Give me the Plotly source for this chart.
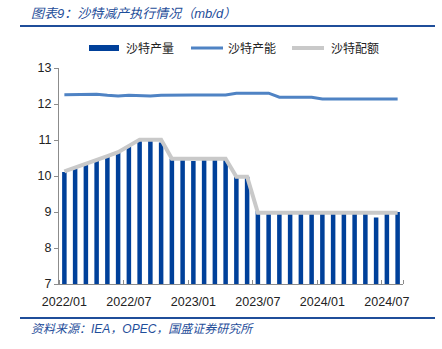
import plotly.graph_objects as go

months = [f"{y}/{m:02d}" for y in (2022, 2023, 2024) for m in range(1, 13)][:32]
production = [10.11, 10.21, 10.31, 10.42, 10.53, 10.64, 10.82, 10.97, 11.02, 10.93,
              10.48, 10.46, 10.42, 10.46, 10.46, 10.46, 9.98, 9.98, 9.03, 8.98,
              9.03, 8.98, 8.98, 8.98, 8.98, 8.98, 8.98, 9.03, 9.03, 8.85, 8.98, 9.00]
capacity = [12.26, 12.26, 12.26, 12.27, 12.24, 12.22, 12.24, 12.23, 12.22, 12.24,
            12.25, 12.25, 12.25, 12.25, 12.25, 12.25, 12.30, 12.30, 12.30, 12.30,
            12.19, 12.19, 12.19, 12.19, 12.14, 12.14, 12.14, 12.14, 12.14, 12.14, 12.14, 12.14]
quota = [10.13, 10.23, 10.34, 10.44, 10.55, 10.66, 10.83, 11.01, 11.01, 11.01,
         10.48, 10.48, 10.48, 10.48, 10.48, 10.48, 9.98, 9.98] + [8.98] * 14
tick_labels = months[::6]

x = list(range(len(months)))

BAR = "#00409A"
CAP = "#4F83C4"
QUO = "#C9C9C9"
BLUE_TXT = "#1F4E9A"
FONT = "Liberation Sans, Arial, Noto Sans CJK SC"

W, H = 442, 349
L, R, T, B = 59, 403, 68, 284


def px(xp):
    return (xp - L) / (R - L)


def py(yp):
    return (B - yp) / (B - T)


fig = go.Figure()
fig.add_trace(go.Bar(x=x, y=production, marker_color=BAR, marker_line_width=0,
                     name="沙特产量"))
fig.add_trace(go.Scatter(x=x, y=capacity, mode="lines", line=dict(color=CAP, width=3),
                         name="沙特产能"))
fig.add_trace(go.Scatter(x=x, y=quota, mode="lines", line=dict(color=QUO, width=4),
                         name="沙特配额"))

shapes = [
    dict(type="line", xref="paper", yref="paper", x0=px(20), x1=px(435), y0=py(26), y1=py(26),
         line=dict(color=BLUE_TXT, width=2)),
    dict(type="line", xref="paper", yref="paper", x0=px(20), x1=px(435), y0=py(318), y1=py(318),
         line=dict(color=BLUE_TXT, width=2)),
    # legend symbols
    dict(type="rect", xref="paper", yref="paper", x0=px(89), x1=px(119), y0=py(51), y1=py(45),
         fillcolor=BAR, line=dict(width=0)),
    dict(type="line", xref="paper", yref="paper", x0=px(191), x1=px(223), y0=py(48), y1=py(48),
         line=dict(color=CAP, width=3)),
    dict(type="line", xref="paper", yref="paper", x0=px(292), x1=px(324), y0=py(48), y1=py(48),
         line=dict(color=QUO, width=4)),
]

annotations = [
    dict(text="<i>图表9：沙特减产执行情况（mb/d）</i>", xref="paper", yref="paper",
         x=px(29), y=py(13), xanchor="left", yanchor="middle", showarrow=False,
         font=dict(size=13, color=BLUE_TXT, family=FONT)),
    dict(text="<i>资料来源：IEA，OPEC，国盛证券研究所</i>", xref="paper", yref="paper",
         x=px(29), y=py(329), xanchor="left", yanchor="middle", showarrow=False,
         font=dict(size=12, color=BLUE_TXT, family=FONT)),
    dict(text="沙特产量", xref="paper", yref="paper", x=px(124), y=py(48),
         xanchor="left", yanchor="middle", showarrow=False, font=dict(size=12, color="#222", family=FONT)),
    dict(text="沙特产能", xref="paper", yref="paper", x=px(226), y=py(48),
         xanchor="left", yanchor="middle", showarrow=False, font=dict(size=12, color="#222", family=FONT)),
    dict(text="沙特配额", xref="paper", yref="paper", x=px(329), y=py(48),
         xanchor="left", yanchor="middle", showarrow=False, font=dict(size=12, color="#222", family=FONT)),
]

fig.update_layout(
    width=W, height=H,
    margin=dict(l=L, r=W - R, t=T, b=H - B, pad=0),
    paper_bgcolor="white", plot_bgcolor="white",
    showlegend=False,
    bargap=0.58,
    shapes=shapes, annotations=annotations,
    font=dict(family=FONT, size=12, color="#222"),
)
fig.update_xaxes(
    range=[-0.5, len(months) - 0.5],
    tickmode="array", tickvals=x[::6], ticktext=tick_labels,
    ticks="outside", ticklen=6, tickcolor="rgba(0,0,0,0)",
    showgrid=False, zeroline=False,
    showline=True, linecolor="#8C8C8C", linewidth=1,
    tickfont=dict(size=12.5, color="#222", family=FONT),
    minor=dict(tickmode="array", tickvals=[i - 0.5 for i in x[::6]] + [len(months) - 0.5],
               ticks="inside", ticklen=4, tickcolor="#8C8C8C", showgrid=False),
)
fig.update_yaxes(
    range=[7, 13], dtick=1, tick0=7,
    ticks="outside", ticklen=4, tickcolor="#8C8C8C",
    showgrid=False, zeroline=False,
    showline=True, linecolor="#8C8C8C", linewidth=1,
    tickfont=dict(size=12.5, color="#222", family=FONT),
)

fig.write_html("out.html")
